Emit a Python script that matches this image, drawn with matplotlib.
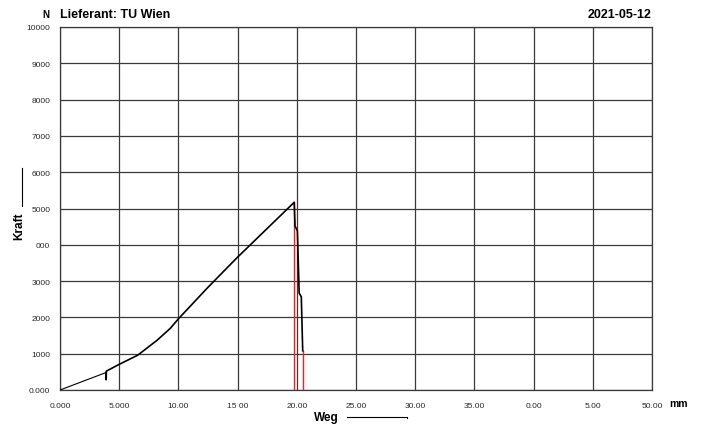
import matplotlib
matplotlib.use("Agg")
import matplotlib.pyplot as plt
import numpy as np

plt.rcParams['font.family'] = ['Liberation Sans', 'DejaVu Sans']

# Weg (mm) / Kraft (N) readings of the test curve
weg = [0.0, 3.88, 3.90, 3.92, 4.96, 6.57, 8.2, 9.32, 10.0, 12.5, 15.0, 17.5, 19.78,
       19.85, 20.05, 20.2, 20.38, 20.5]
kraft = [0, 480, 280, 520, 700, 960, 1370, 1700, 1960, 2830, 3660, 4450, 5170,
         4520, 4380, 2670, 2570, 1080]

# red marker lines: (x, top)
red_x = [19.78, 20.5]
red_top = [5170, 1080]

x_ticks = [0, 5, 10, 15, 20, 25, 30, 35, 40, 45, 50]
x_labels = ["0.000", "5.000", "10.00", "15 00", "20.00", "25.00", "30.00", "35.00",
            "0.00", "5.00", "50.00"]
y_ticks = list(range(0, 10001, 1000))
y_labels = ["0.000", "1000", "2000", "3000", "000", "5000", "6000", "7000", "8000",
            "9000", "10000"]

W, H = 701, 427
fig = plt.figure(figsize=(W / 100, H / 100), dpi=100)
ax = fig.add_axes([60 / W, 1 - 391 / H, 592 / W, 363 / H])

ax.set_xlim(0, 50)
ax.set_ylim(0, 10000)
ax.set_xticks(x_ticks)
ax.set_xticklabels(x_labels)
ax.set_yticks(y_ticks)
ax.set_yticklabels(y_labels)
ax.tick_params(length=0, labelsize=6, colors='#2a2a2a')
ax.tick_params(axis='x', pad=9)
ax.tick_params(axis='y', pad=7)
ax.grid(True, color='#3a3a3a', linewidth=0.9)
for s in ax.spines.values():
    s.set_color('#3a3a3a')
    s.set_linewidth(0.9)

for x, top in zip(red_x, red_top):
    ax.plot([x, x], [0, top], color='#ff1a1a', linewidth=1.0, zorder=3)

ax.plot(weg[:2], kraft[:2], color='black', linewidth=0.8, zorder=4)
ax.plot(weg[1:], kraft[1:], color='black', linewidth=1.2, zorder=4)


def px(x, y):
    return x / W, 1 - y / H


fig.text(*px(46, 15), "N", fontsize=7, fontweight='bold', ha='center', va='center')
fig.text(*px(60, 15), "Lieferant: TU Wien", fontsize=9, fontweight='bold',
         ha='left', va='center')
fig.text(*px(652, 15), "2021-05-12", fontsize=9, fontweight='bold',
         ha='right', va='center')
fig.text(*px(678, 404), "mm", fontsize=7.5, fontweight='bold', ha='center', va='center')
fig.text(*px(326, 418), "Weg", fontsize=8.5, fontweight='bold', ha='center', va='center')
fig.add_artist(plt.Line2D([347 / W, 407 / W, 407 / W],
                          [1 - 417.5 / H, 1 - 417.5 / H, 1 - 419 / H], color='black',
                          linewidth=0.8, transform=fig.transFigure))
fig.text(*px(19, 226), "Kraft", fontsize=8.5, fontweight='bold', rotation=90,
         ha='center', va='center')
fig.add_artist(plt.Line2D([21.5 / W] * 2, [1 - 169 / H, 1 - 207 / H], color='black',
                          linewidth=0.8, transform=fig.transFigure))

fig.savefig("out.png", dpi=100)
